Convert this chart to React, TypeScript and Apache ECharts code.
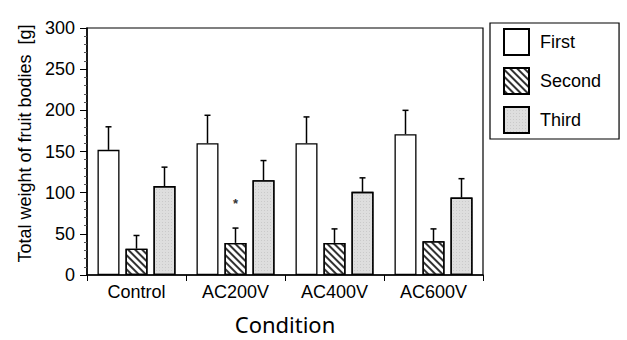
import React, { useEffect, useRef } from "react";
import * as echarts from "echarts";

const categories = ["Control", "AC200V", "AC400V", "AC600V"];
const seriesNames = ["First", "Second", "Third"];
const firstValues = [152, 160, 160, 171];
const secondValues = [32, 39, 39, 41];
const thirdValues = [108, 115, 101, 94];
const firstErrTop = [180, 194, 192, 200];
const secondErrTop = [48, 57, 56, 56];
const thirdErrTop = [131, 139, 118, 117];
const yTicks = [0, 50, 100, 150, 200, 250, 300];

const BAR_W = 22;
const BAR_GAP = 6;

export default function App() {
  const ref = useRef<HTMLDivElement>(null);
  useEffect(() => {
    document.body.style.margin = "0";
    if (!ref.current) return;
    const chart = echarts.init(ref.current, null, { renderer: "svg" });
    const font = "Liberation Sans";
    const values = [firstValues, secondValues, thirdValues];
    const errs = [firstErrTop, secondErrTop, thirdErrTop];
    const styles: any[] = [
      { color: "#ffffff", borderColor: "#000", borderWidth: 1.3 },
      {
        color: "#ffffff",
        borderColor: "#000",
        borderWidth: 1.3,
        decal: {
          symbol: "rect",
          color: "#333",
          dashArrayX: [1, 0],
          dashArrayY: [1.2, 2.6],
          rotation: Math.PI / 4,
        },
      },
      {
        color: "#dedede",
        borderColor: "#000",
        borderWidth: 1.3,
        decal: {
          symbol: "rect",
          color: "#999",
          symbolSize: 0.6,
          dashArrayX: [1, 2],
          dashArrayY: [1, 2],
          rotation: 0,
        },
      },
    ];
    const barSeries = seriesNames.map((name, i) => ({
      name,
      type: "bar",
      barWidth: BAR_W,
      barGap: `${(BAR_GAP / BAR_W) * 100}%`,
      itemStyle: styles[i],
      data: values[i].map((v, j) =>
        i === 1 && j === 1
          ? {
              value: v,
              label: {
                show: true,
                formatter: "*",
                position: "top",
                distance: 33,
                fontSize: 13,
                fontWeight: "bold",
                color: "#333",
                fontFamily: font,
              },
            }
          : v
      ),
      z: 2,
    }));
    const errData: any[] = [];
    errs.forEach((arr, si) =>
      arr.forEach((top, ci) => errData.push([ci, values[si][ci], top, si]))
    );
    const errSeries = {
      type: "custom",
      name: "err",
      z: 1,
      silent: true,
      data: errData,
      renderItem: (params: any, api: any) => {
        const ci = api.value(0);
        const si = api.value(3);
        const base = api.coord([ci, api.value(1)]);
        const top = api.coord([ci, api.value(2)]);
        const x = base[0] + (si - 1) * (BAR_W + BAR_GAP);
        return {
          type: "group",
          children: [
            {
              type: "line",
              shape: { x1: x, y1: base[1], x2: x, y2: top[1] },
              style: { stroke: "#000", lineWidth: 1.5 },
            },
            {
              type: "line",
              shape: { x1: x - 3, y1: top[1], x2: x + 3, y2: top[1] },
              style: { stroke: "#000", lineWidth: 1.5 },
            },
          ],
        };
      },
    };
    chart.setOption({
      animation: false,
      backgroundColor: "#fff",
      grid: {
        left: 87,
        right: 144,
        top: 28,
        bottom: 64,
        show: true,
        borderColor: "#000",
        borderWidth: 1.2,
      },
      legend: {
        data: seriesNames.map((n) => ({ name: n, icon: "rect" })),
        orient: "vertical",
        left: 490,
        top: 23,
        itemWidth: 25,
        itemHeight: 26,
        itemGap: 11,
        padding: [5, 18, 5, 13],
        borderColor: "#000",
        borderWidth: 1.2,
        textStyle: {
          fontFamily: font,
          fontSize: 18,
          color: "#000",
          padding: [0, 0, 0, 6],
        },
      },
      xAxis: {
        type: "category",
        data: categories,
        name: "Condition",
        nameLocation: "middle",
        nameGap: 38,
        nameTextStyle: { fontFamily: "Noto Sans", fontSize: 22, color: "#000" },
        axisLine: { lineStyle: { color: "#000", width: 1.5 } },
        axisTick: { show: true, length: 6, lineStyle: { color: "#000" } },
        axisLabel: { fontFamily: font, fontSize: 18, color: "#000", margin: 8 },
      },
      yAxis: {
        type: "value",
        min: yTicks[0],
        max: yTicks[yTicks.length - 1],
        interval: 50,
        name: "Total weight of fruit bodies  [g]",
        nameLocation: "middle",
        nameGap: 44,
        nameTextStyle: {
          fontFamily: font,
          fontSize: 18,
          color: "#000",
          padding: [0, 0, 0, 16],
        },
        axisLine: { show: true, lineStyle: { color: "#000", width: 1.5 } },
        axisTick: { show: true, length: 7, lineStyle: { color: "#000" } },
        minorTick: { show: true, splitNumber: 5, length: 3, lineStyle: { color: "#555" } },
        splitLine: { show: false },
        axisLabel: { fontFamily: font, fontSize: 18, color: "#000", margin: 12 },
      },
      series: [...barSeries, errSeries],
    });
    return () => chart.dispose();
  }, []);
  return <div ref={ref} style={{ width: 627, height: 340 }} />;
}
